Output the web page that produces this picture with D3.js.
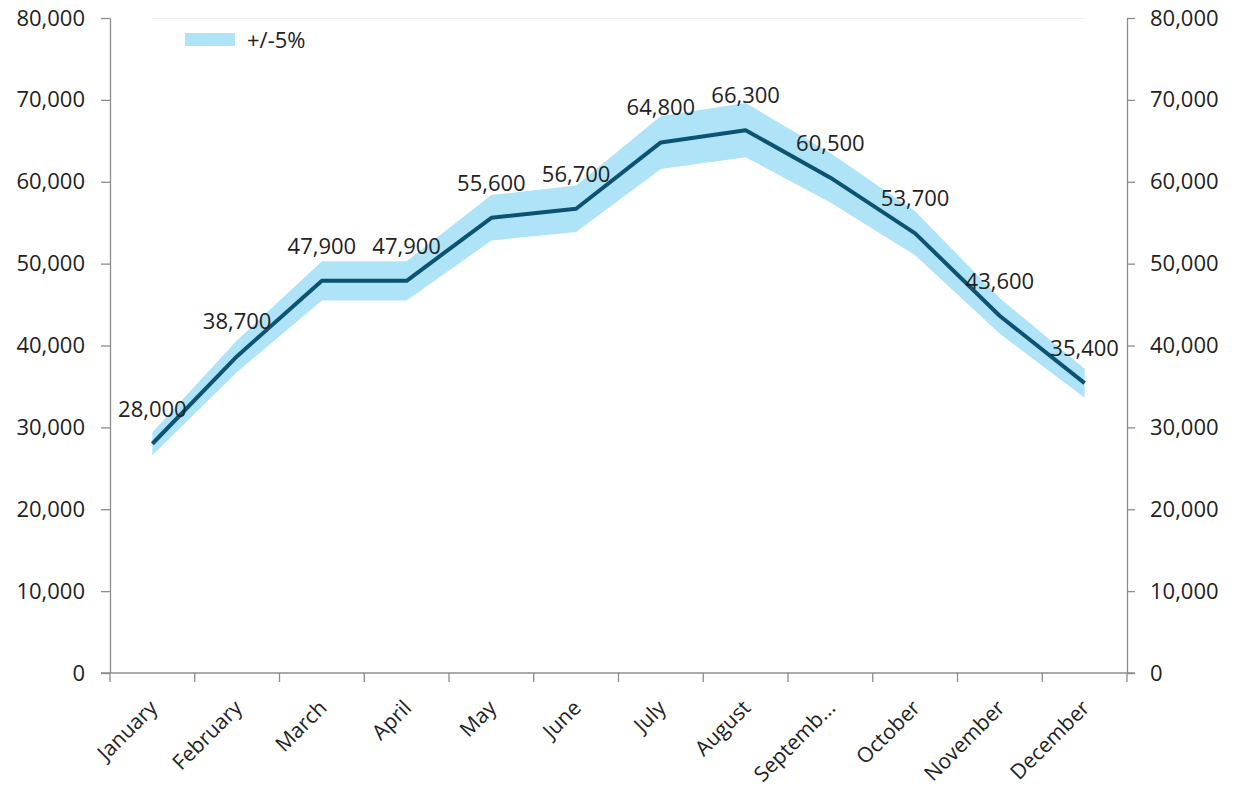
<!DOCTYPE html>
<html>
<head>
<meta charset="utf-8">
<script src="https://cdn.jsdelivr.net/npm/d3@7"></script>
<style>
  html, body { margin: 0; padding: 0; background: #fff; }
  svg { display: block; font-family: "Open Sans", "Noto Sans", sans-serif; }
</style>
</head>
<body>
<svg id="chart" width="1234" height="793"></svg>
<script>
// Monthly values and the +/-5% band around them
const months = ["January", "February", "March", "April", "May", "June",
                "July", "August", "Septemb...", "October", "November", "December"];
const values = [28000, 38700, 47900, 47900, 55600, 56700,
                64800, 66300, 60500, 53700, 43600, 35400];
const bandPct = 0.05;
const yTicks = [0, 10000, 20000, 30000, 40000, 50000, 60000, 70000, 80000];
const legendLabel = "+/-5%";

const svg = d3.select("#chart");
const plotLeft = 110, plotRight = 1127, plotTop = 18, plotBottom = 673;

const x = d3.scaleBand().domain(months).range([plotLeft, plotRight]).padding(0);
const y = d3.scaleLinear().domain([0, 80000]).range([plotBottom, plotTop]);
const cx = m => x(m) + x.bandwidth() / 2;
const fmt = d3.format(",");

const data = months.map((m, i) => ({ m, v: values[i] }));

// faint plot-area top edge
svg.append("line")
  .attr("x1", cx(months[0])).attr("x2", cx(months[months.length - 1]))
  .attr("y1", plotTop + 0.5).attr("y2", plotTop + 0.5)
  .attr("stroke", "#f0f0f0").attr("stroke-width", 1);

// band
const area = d3.area()
  .x(d => cx(d.m))
  .y0(d => y(d.v * (1 - bandPct)))
  .y1(d => y(d.v * (1 + bandPct)));
svg.append("path").datum(data)
  .attr("d", area)
  .attr("fill", "#afe3f7");

// main line
const line = d3.line().x(d => cx(d.m)).y(d => y(d.v));
svg.append("path").datum(data)
  .attr("d", line)
  .attr("fill", "none")
  .attr("stroke", "#0c5273")
  .attr("stroke-width", 4)
  .attr("stroke-linejoin", "round");

// value labels
svg.append("g").selectAll("text").data(data).join("text")
  .attr("x", d => cx(d.m))
  .attr("y", d => y(d.v) - 27)
  .attr("text-anchor", "middle")
  .attr("font-size", 22)
  .attr("fill", "#222")
  .text(d => fmt(d.v));

// axes
const axisColor = "#8c8c8c";
function styleAxis(g) {
  g.selectAll(".domain").attr("stroke", axisColor).attr("stroke-width", 1.3);
  g.selectAll(".tick line").attr("stroke", axisColor).attr("stroke-width", 1.3);
  g.selectAll(".tick text").attr("fill", "#222").attr("font-size", 22)
    .attr("font-family", "'Open Sans', 'Noto Sans', sans-serif");
}

const yLeft = svg.append("g")
  .attr("transform", `translate(${plotLeft},0)`)
  .call(d3.axisLeft(y).tickValues(yTicks).tickFormat(fmt).tickSize(9).tickSizeOuter(0).tickPadding(16));
styleAxis(yLeft);

const yRight = svg.append("g")
  .attr("transform", `translate(${plotRight},0)`)
  .call(d3.axisRight(y).tickValues(yTicks).tickFormat(fmt).tickSize(8).tickSizeOuter(0).tickPadding(15));
styleAxis(yRight);

// x axis with ticks at category boundaries
const xAxisG = svg.append("g").attr("transform", `translate(0,${plotBottom})`);
xAxisG.append("line")
  .attr("x1", plotLeft - 9).attr("x2", plotRight + 8)
  .attr("stroke", axisColor).attr("stroke-width", 1.3);
const bounds = months.map(m => x(m)).concat([plotRight]);
xAxisG.selectAll("line.bound").data(bounds).join("line")
  .attr("class", "bound")
  .attr("x1", d => d).attr("x2", d => d)
  .attr("y1", 0).attr("y2", 9)
  .attr("stroke", axisColor).attr("stroke-width", 1.3);
xAxisG.selectAll("text").data(months).join("text")
  .attr("transform", m => `translate(${cx(m) + 1},${31}) rotate(-45)`)
  .attr("text-anchor", "end")
  .attr("dy", "0.35em")
  .attr("font-size", 21)
  .attr("fill", "#222")
  .text(m => m);

// legend
const lg = svg.append("g").attr("transform", "translate(185,33)");
lg.append("rect").attr("x", 0).attr("y", 0).attr("width", 50).attr("height", 13)
  .attr("fill", "#afe3f7");
lg.append("text").attr("x", 62).attr("y", 7).attr("dy", "0.35em")
  .attr("font-size", 22).attr("fill", "#222").text(legendLabel);
</script>
</body>
</html>
